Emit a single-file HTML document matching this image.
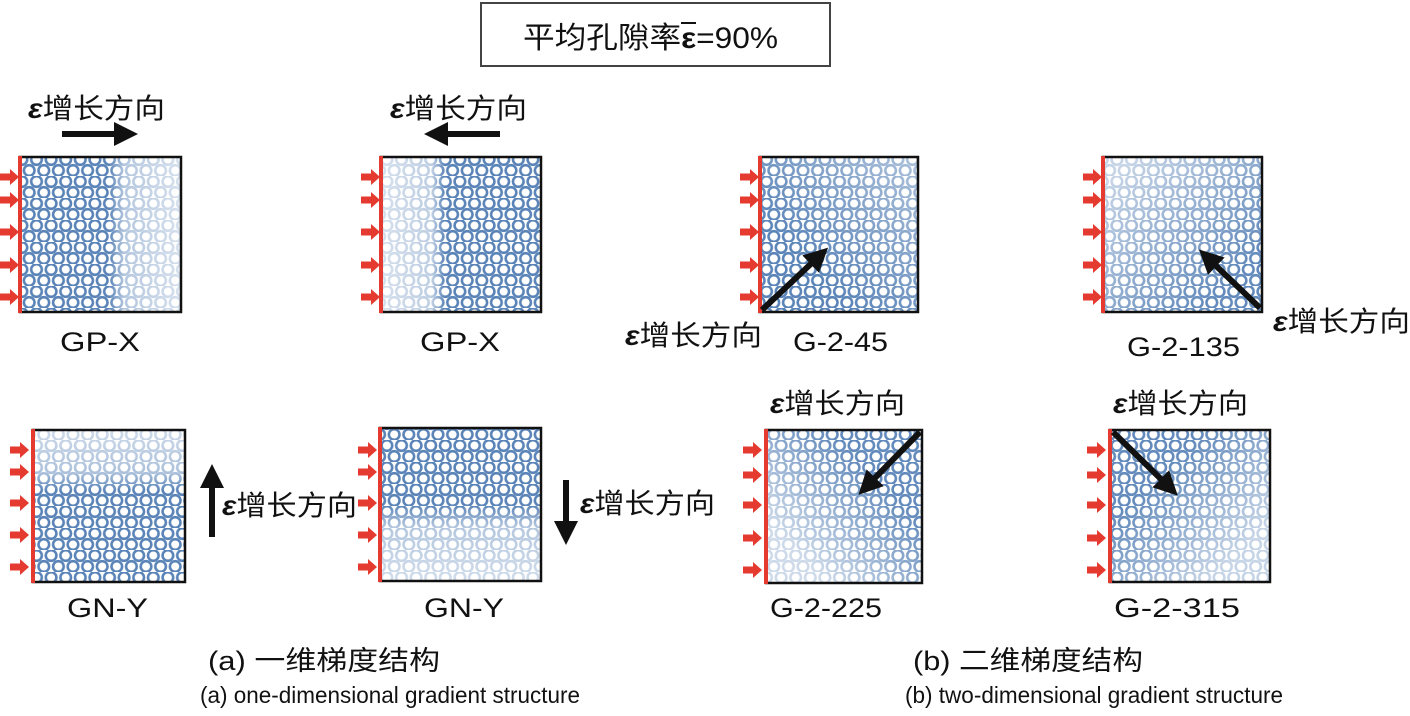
<!DOCTYPE html>
<html><head><meta charset="utf-8"><style>
body{margin:0;background:#fff;width:1410px;height:711px;overflow:hidden}
svg text{font-family:"Liberation Sans","Noto Sans CJK SC",sans-serif;fill:#111}
</style></head><body>
<svg width="1410" height="711" viewBox="0 0 1410 711" xmlns="http://www.w3.org/2000/svg">
<defs>
<pattern id="c" width="14.6" height="22" patternUnits="userSpaceOnUse">
<circle cx="7.3" cy="5.5" r="5.3" fill="#fff" stroke="#5a84b8" stroke-width="2.6"/>
<circle cx="0" cy="16.5" r="5.3" fill="#fff" stroke="#5a84b8" stroke-width="2.6"/>
<circle cx="14.6" cy="16.5" r="5.3" fill="#fff" stroke="#5a84b8" stroke-width="2.6"/>
</pattern>
<linearGradient id="gR" x1="0" y1="0" x2="1" y2="0"><stop offset="0.55" stop-color="#fff" stop-opacity="0"/><stop offset="0.65" stop-color="#fff" stop-opacity="0.55"/><stop offset="1" stop-color="#fff" stop-opacity="0.75"/></linearGradient>
<linearGradient id="gL" x1="1" y1="0" x2="0" y2="0"><stop offset="0.6" stop-color="#fff" stop-opacity="0"/><stop offset="0.68" stop-color="#fff" stop-opacity="0.6"/><stop offset="1" stop-color="#fff" stop-opacity="0.75"/></linearGradient>
<linearGradient id="gT" x1="0" y1="1" x2="0" y2="0"><stop offset="0.6" stop-color="#fff" stop-opacity="0"/><stop offset="0.72" stop-color="#fff" stop-opacity="0.5"/><stop offset="1" stop-color="#fff" stop-opacity="0.7"/></linearGradient>
<linearGradient id="gB" x1="0" y1="0" x2="0" y2="1"><stop offset="0.5" stop-color="#fff" stop-opacity="0"/><stop offset="0.65" stop-color="#fff" stop-opacity="0.55"/><stop offset="1" stop-color="#fff" stop-opacity="0.72"/></linearGradient>
<linearGradient id="g45" x1="0" y1="1" x2="1" y2="0"><stop offset="0.3" stop-color="#fff" stop-opacity="0"/><stop offset="1" stop-color="#fff" stop-opacity="0.5"/></linearGradient>
<linearGradient id="g135" x1="1" y1="1" x2="0" y2="0"><stop offset="0.2" stop-color="#fff" stop-opacity="0.05"/><stop offset="0.9" stop-color="#fff" stop-opacity="0.65"/></linearGradient>
<linearGradient id="g225" x1="1" y1="0" x2="0" y2="1"><stop offset="0.3" stop-color="#fff" stop-opacity="0.05"/><stop offset="0.8" stop-color="#fff" stop-opacity="0.7"/></linearGradient>
<linearGradient id="g315" x1="0" y1="0" x2="1" y2="1"><stop offset="0.3" stop-color="#fff" stop-opacity="0.05"/><stop offset="0.8" stop-color="#fff" stop-opacity="0.65"/></linearGradient>
<g id="ra"><rect x="0" y="-3.5" width="11" height="7" fill="#e53a2f"/><polygon points="10,-8 19,0 10,8" fill="#e53a2f"/></g>
<marker id="ah" markerWidth="4" markerHeight="4" refX="1" refY="2" orient="auto"><polygon points="0,0 4,2 0,4" fill="#111"/></marker>
</defs>

<rect x="481" y="3" width="349" height="63" fill="#fff" stroke="#444" stroke-width="2"/>
<text x="523" y="48" font-size="30" textLength="255" lengthAdjust="spacingAndGlyphs">平均孔隙率<tspan font-weight="bold">ε</tspan>=90%</text>
<line x1="681" y1="23" x2="696" y2="23" stroke="#111" stroke-width="2"/>

<g>
<rect x="20" y="157" width="161" height="155" fill="url(#c)"/><rect x="20" y="157" width="161" height="155" fill="url(#gR)"/><rect x="20" y="157" width="161" height="155" fill="none" stroke="#111" stroke-width="2.5"/>
<line x1="20" y1="156" x2="20" y2="313" stroke="#e53a2f" stroke-width="4"/>
<use href="#ra" x="0" y="177"/><use href="#ra" x="0" y="200"/><use href="#ra" x="0" y="232"/><use href="#ra" x="0" y="265"/><use href="#ra" x="0" y="297"/>

<rect x="381" y="157" width="160" height="155" fill="url(#c)"/><rect x="381" y="157" width="160" height="155" fill="url(#gL)"/><rect x="381" y="157" width="160" height="155" fill="none" stroke="#111" stroke-width="2.5"/>
<line x1="381" y1="156" x2="381" y2="313" stroke="#e53a2f" stroke-width="4"/>
<use href="#ra" x="361" y="177"/><use href="#ra" x="361" y="200"/><use href="#ra" x="361" y="232"/><use href="#ra" x="361" y="265"/><use href="#ra" x="361" y="297"/>

<rect x="760" y="157" width="158" height="155" fill="url(#c)"/><rect x="760" y="157" width="158" height="155" fill="url(#g45)"/><rect x="760" y="157" width="158" height="155" fill="none" stroke="#111" stroke-width="2.5"/>
<line x1="760" y1="156" x2="760" y2="313" stroke="#e53a2f" stroke-width="4"/>
<use href="#ra" x="740" y="177"/><use href="#ra" x="740" y="200"/><use href="#ra" x="740" y="232"/><use href="#ra" x="740" y="265"/><use href="#ra" x="740" y="297"/>

<rect x="1103" y="157" width="159" height="155" fill="url(#c)"/><rect x="1103" y="157" width="159" height="155" fill="url(#g135)"/><rect x="1103" y="157" width="159" height="155" fill="none" stroke="#111" stroke-width="2.5"/>
<line x1="1103" y1="156" x2="1103" y2="313" stroke="#e53a2f" stroke-width="4"/>
<use href="#ra" x="1083" y="177"/><use href="#ra" x="1083" y="200"/><use href="#ra" x="1083" y="232"/><use href="#ra" x="1083" y="265"/><use href="#ra" x="1083" y="297"/>

<rect x="33" y="430" width="152" height="152" fill="url(#c)"/><rect x="33" y="430" width="152" height="152" fill="url(#gT)"/><rect x="33" y="430" width="152" height="152" fill="none" stroke="#111" stroke-width="2.5"/>
<line x1="33" y1="429" x2="33" y2="583" stroke="#e53a2f" stroke-width="4"/>
<use href="#ra" x="10" y="450"/><use href="#ra" x="10" y="472"/><use href="#ra" x="10" y="503"/><use href="#ra" x="10" y="535"/><use href="#ra" x="10" y="567"/>

<rect x="380" y="428" width="161" height="153" fill="url(#c)"/><rect x="380" y="428" width="161" height="153" fill="url(#gB)"/><rect x="380" y="428" width="161" height="153" fill="none" stroke="#111" stroke-width="2.5"/>
<line x1="380" y1="427" x2="380" y2="582" stroke="#e53a2f" stroke-width="4"/>
<use href="#ra" x="358" y="450"/><use href="#ra" x="358" y="472"/><use href="#ra" x="358" y="503"/><use href="#ra" x="358" y="535"/><use href="#ra" x="358" y="567"/>

<rect x="766" y="430" width="156" height="153" fill="url(#c)"/><rect x="766" y="430" width="156" height="153" fill="url(#g225)"/><rect x="766" y="430" width="156" height="153" fill="none" stroke="#111" stroke-width="2.5"/>
<line x1="766" y1="429" x2="766" y2="584" stroke="#e53a2f" stroke-width="4"/>
<use href="#ra" x="743" y="450"/><use href="#ra" x="743" y="475"/><use href="#ra" x="743" y="505"/><use href="#ra" x="743" y="538"/><use href="#ra" x="743" y="570"/>

<rect x="1110" y="430" width="160" height="152" fill="url(#c)"/><rect x="1110" y="430" width="160" height="152" fill="url(#g315)"/><rect x="1110" y="430" width="160" height="152" fill="none" stroke="#111" stroke-width="2.5"/>
<line x1="1110" y1="429" x2="1110" y2="583" stroke="#e53a2f" stroke-width="4"/>
<use href="#ra" x="1087" y="450"/><use href="#ra" x="1087" y="475"/><use href="#ra" x="1087" y="505"/><use href="#ra" x="1087" y="538"/><use href="#ra" x="1087" y="570"/>
</g>

<g stroke="#111" stroke-width="6" marker-end="url(#ah)">
<line x1="62" y1="134" x2="120" y2="134"/>
<line x1="500" y1="134" x2="442" y2="134"/>
<line x1="762" y1="310" x2="815" y2="260"/>
<line x1="1260" y1="308" x2="1212" y2="262"/>
<line x1="212" y1="537" x2="212" y2="482"/>
<line x1="566" y1="480" x2="566" y2="527"/>
<line x1="920" y1="432" x2="871" y2="482"/>
<line x1="1113" y1="432" x2="1165" y2="483"/>
</g>

<g font-size="28">
<text x="28" y="118" textLength="137" lengthAdjust="spacingAndGlyphs"><tspan font-weight="bold" font-style="italic">ε</tspan>增长方向</text>
<text x="390" y="118" textLength="137" lengthAdjust="spacingAndGlyphs"><tspan font-weight="bold" font-style="italic">ε</tspan>增长方向</text>
<text x="625" y="345" textLength="137" lengthAdjust="spacingAndGlyphs"><tspan font-weight="bold" font-style="italic">ε</tspan>增长方向</text>
<text x="1273" y="331" textLength="137" lengthAdjust="spacingAndGlyphs"><tspan font-weight="bold" font-style="italic">ε</tspan>增长方向</text>
<text x="222" y="515" textLength="135" lengthAdjust="spacingAndGlyphs"><tspan font-weight="bold" font-style="italic">ε</tspan>增长方向</text>
<text x="580" y="513" textLength="135" lengthAdjust="spacingAndGlyphs"><tspan font-weight="bold" font-style="italic">ε</tspan>增长方向</text>
<text x="770" y="413" textLength="135" lengthAdjust="spacingAndGlyphs"><tspan font-weight="bold" font-style="italic">ε</tspan>增长方向</text>
<text x="1113" y="413" textLength="135" lengthAdjust="spacingAndGlyphs"><tspan font-weight="bold" font-style="italic">ε</tspan>增长方向</text>
</g>
<g font-size="27">
<text x="60" y="351" textLength="80" lengthAdjust="spacingAndGlyphs">GP-X</text>
<text x="420" y="351" textLength="80" lengthAdjust="spacingAndGlyphs">GP-X</text>
<text x="793" y="351" textLength="95" lengthAdjust="spacingAndGlyphs">G-2-45</text>
<text x="1127" y="356" textLength="113" lengthAdjust="spacingAndGlyphs">G-2-135</text>
<text x="67" y="617" textLength="81" lengthAdjust="spacingAndGlyphs">GN-Y</text>
<text x="424" y="617" textLength="80" lengthAdjust="spacingAndGlyphs">GN-Y</text>
<text x="770" y="617" textLength="112" lengthAdjust="spacingAndGlyphs">G-2-225</text>
<text x="1114" y="617" textLength="126" lengthAdjust="spacingAndGlyphs">G-2-315</text>
<text x="208" y="670" textLength="232" lengthAdjust="spacingAndGlyphs">(a) 一维梯度结构</text>
<text x="913" y="670" textLength="230" lengthAdjust="spacingAndGlyphs">(b) 二维梯度结构</text>
</g>
<g font-size="23">
<text x="200" y="703" textLength="380" lengthAdjust="spacingAndGlyphs">(a) one-dimensional gradient structure</text>
<text x="905" y="703" textLength="378" lengthAdjust="spacingAndGlyphs">(b) two-dimensional gradient structure</text>
</g>
</svg>
</body></html>
